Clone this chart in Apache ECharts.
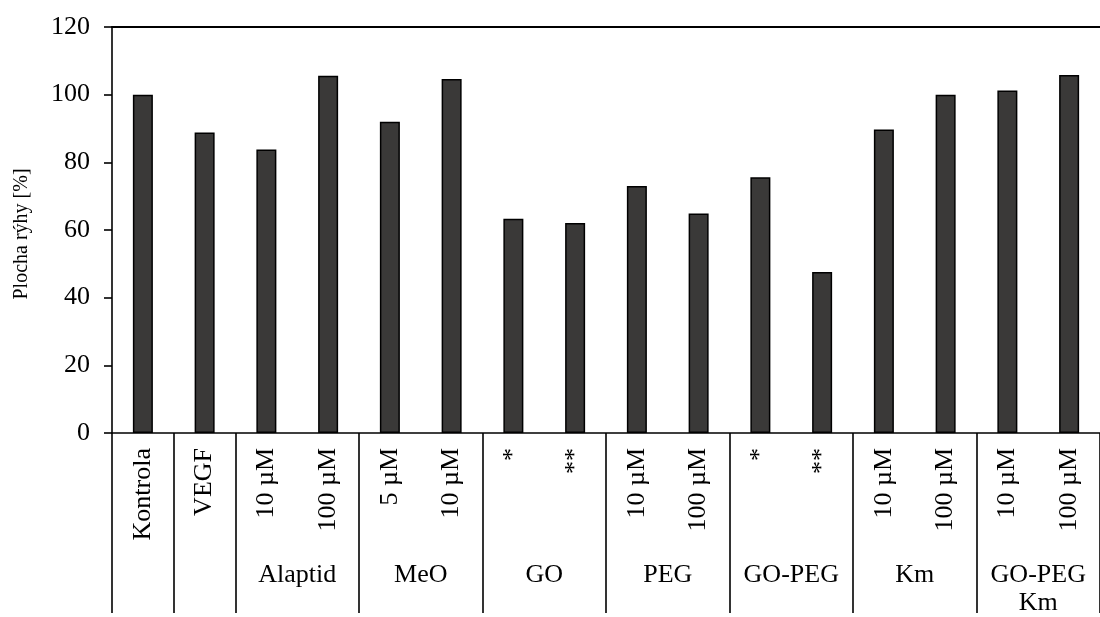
<!DOCTYPE html>
<html>
<head>
<meta charset="utf-8">
<script src="https://cdn.jsdelivr.net/npm/echarts@6/dist/echarts.min.js"></script>
<style>html,body{margin:0;padding:0;background:#fff;overflow:hidden}#c{width:1100px;height:617px}</style>
</head>
<body>
<div id="c"></div>
<script>
var categories = ['Kontrola','VEGF','10 µM','100 µM','5 µM','10 µM','*','**','10 µM','100 µM','*','**','10 µM','100 µM','10 µM','100 µM'];
var values = [100, 88.8, 83.8, 105.6, 92.0, 104.6, 63.3, 62.1, 73.0, 64.9, 75.6, 47.6, 89.7, 100.0, 101.2, 105.8];
var groupNames = ['Alaptid','MeO','GO','PEG','GO-PEG','Km','GO-PEG\nKm'];
var groupCenters = [3, 5, 7, 9, 11, 13, 15];
var separatorIdx = [0, 1, 2, 4, 6, 8, 10, 12, 14];
var yTicks = [0, 20, 40, 60, 80, 100, 120];

var FONT = '"Liberation Serif", "DejaVu Serif", serif';
var chart = echarts.init(document.getElementById('c'), null, {renderer: 'canvas', width: 1100, height: 617});
chart.setOption({
  animation: false,
  backgroundColor: '#fff',
  grid: {left: 112, top: 27, width: 1000, height: 411, containLabel: false},
  xAxis: [
    {
      type: 'category', data: categories, position: 'bottom',
      axisLine: {show: true, lineStyle: {color: '#000', width: 1.6}},
      axisTick: {show: true, length: 180, lineStyle: {color: '#000', width: 1.6},
        interval: function (i) { return separatorIdx.indexOf(i) >= 0; }},
      axisLabel: {rotate: 90, margin: 15, interval: 0, fontFamily: FONT, fontSize: 26, color: '#000'},
      splitLine: {show: false}
    },
    {
      type: 'value', min: 0, max: 16, interval: 1, position: 'bottom', offset: 0,
      axisLine: {show: false}, axisTick: {show: false}, splitLine: {show: false},
      axisLabel: {show: true, margin: 128, fontFamily: FONT, fontSize: 26, color: '#000', lineHeight: 28,
        showMinLabel: false, showMaxLabel: false,
        formatter: function (v) { var k = groupCenters.indexOf(v); return k >= 0 ? groupNames[k] : ''; }}
    },
    {
      type: 'category', data: categories, position: 'top',
      axisLine: {show: true, lineStyle: {color: '#000', width: 2}},
      axisTick: {show: false}, axisLabel: {show: false}
    }
  ],
  yAxis: {
    type: 'value', min: 0, max: 120, interval: 20,
    name: 'Plocha rýhy [%]', nameLocation: 'middle', nameGap: 80,
    nameTextStyle: {fontFamily: FONT, fontSize: 20, color: '#000', padding: [0, 8, 0, 0]},
    axisLine: {show: true, lineStyle: {color: '#000', width: 1.6}},
    axisTick: {show: true, length: 8, lineStyle: {color: '#000', width: 1.6}},
    axisLabel: {margin: 22, fontFamily: FONT, fontSize: 26, color: '#000',
      formatter: function (v) { return yTicks.indexOf(v) >= 0 ? String(v) : ''; }},
    splitLine: {show: false}
  },
  series: [{
    type: 'bar', data: values, barWidth: 20, xAxisIndex: 0,
    itemStyle: {color: '#3a3938', borderColor: '#000', borderWidth: 1.5},
    silent: true
  }]
});
</script>
</body>
</html>
